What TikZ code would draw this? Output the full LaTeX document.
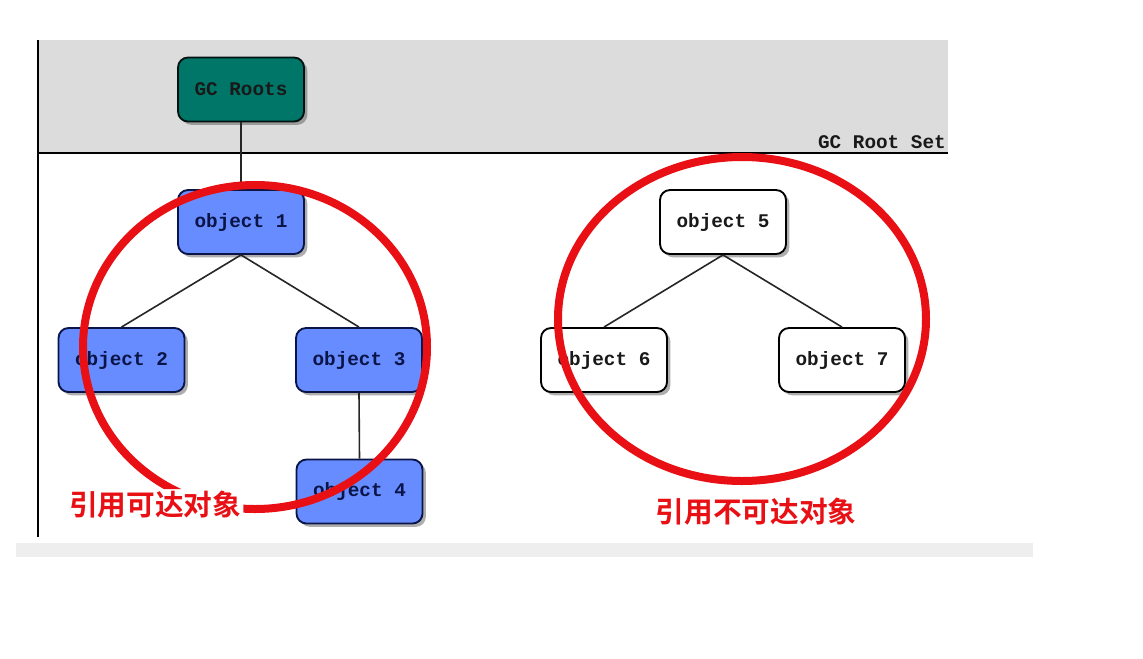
\documentclass[tikz,border=0pt]{standalone}
\usepackage{fontspec}
\setmonofont{Liberation Mono}
\newfontfamily\cjk{Noto Sans CJK SC}[BoldFont={Noto Sans CJK SC Bold}]
\usetikzlibrary{shadows}
\definecolor{bandgray}{RGB}{220,220,220}
\definecolor{stripgray}{RGB}{238,238,238}
\definecolor{teal1}{RGB}{0,118,104}
\definecolor{blue1}{RGB}{102,140,255}
\definecolor{navy}{RGB}{10,20,70}
\definecolor{red1}{RGB}{232,16,20}
\tikzset{
  monofont/.style={font=\ttfamily\bfseries\fontsize{14.5pt}{16pt}\selectfont},
  obj/.style={draw, line width=1.4pt, rounded corners=7.5pt, minimum width=94.5pt, minimum height=48pt,
    monofont, drop shadow={shadow xshift=2.5pt, shadow yshift=-2.5pt, opacity=0.45, fill=black!70}},
  rootbox/.style={obj, fill=teal1, draw=black!85!teal1, text=black!90},
  reach/.style={obj, fill=blue1, draw=navy, text=navy},
  unreach/.style={obj, fill=white, draw=black, text=black!90},
  link/.style={line width=1.2pt, black!85},
  ring/.style={draw=red1, line width=6pt},
  tag/.style={text=red1, inner sep=1.5pt, font=\cjk\bfseries\fontsize{21.5pt}{24pt}\selectfont},
}
\begin{document}
\begin{tikzpicture}[x=0.75pt,y=-0.75pt]
\useasboundingbox (0,0) rectangle (1143,658);
\fill[white] (0,0) rectangle (1143,658);
% band
\fill[bandgray] (38,40) rectangle (948,153);
\draw[line width=1.3pt] (38,153) -- (948,153);
\draw[line width=1.3pt] (38,40) -- (38,537);
\fill[stripgray] (16,543) rectangle (1033,557);
\node[anchor=base east, monofont, text=black!90, inner sep=0pt] (rootset) at (946,148) {GC Root Set};
% nodes
\node[rootbox] (roots) at (241,89.5) {GC Roots};
\node[reach] (o1) at (241,222) {object 1};
\node[reach] (o2) at (121.5,360) {object 2};
\node[reach] (o3) at (359,360) {object 3};
\node[reach] (o4) at (359.5,491.5) {object 4};
\node[unreach] (o5) at (723,222) {object 5};
\node[unreach] (o6) at (604,360) {object 6};
\node[unreach] (o7) at (842,360) {object 7};
% links
\draw[link] (roots.south) -- (o1.north);
\draw[link] (o1.south) -- (o2.north);
\draw[link] (o1.south) -- (o3.north);
\draw[link] (o3.south) -- (o4.north);
\draw[link] (o5.south) -- (o6.north);
\draw[link] (o5.south) -- (o7.north);
% labels
\node[tag] (lreach) at (155,505) {引用可达对象};
\node[tag] (lunreach) at (756,512) {引用不可达对象};
% rings (kept clear of the labels)
\begin{scope}[even odd rule]
\clip (0,0) rectangle (1143,658) (lreach.south west) rectangle (lreach.north east);
\draw[ring] (255,347) ellipse [x radius=172, y radius=162];
\end{scope}
\draw[ring] (742,319) ellipse [x radius=184, y radius=162];
\end{tikzpicture}
\end{document}
